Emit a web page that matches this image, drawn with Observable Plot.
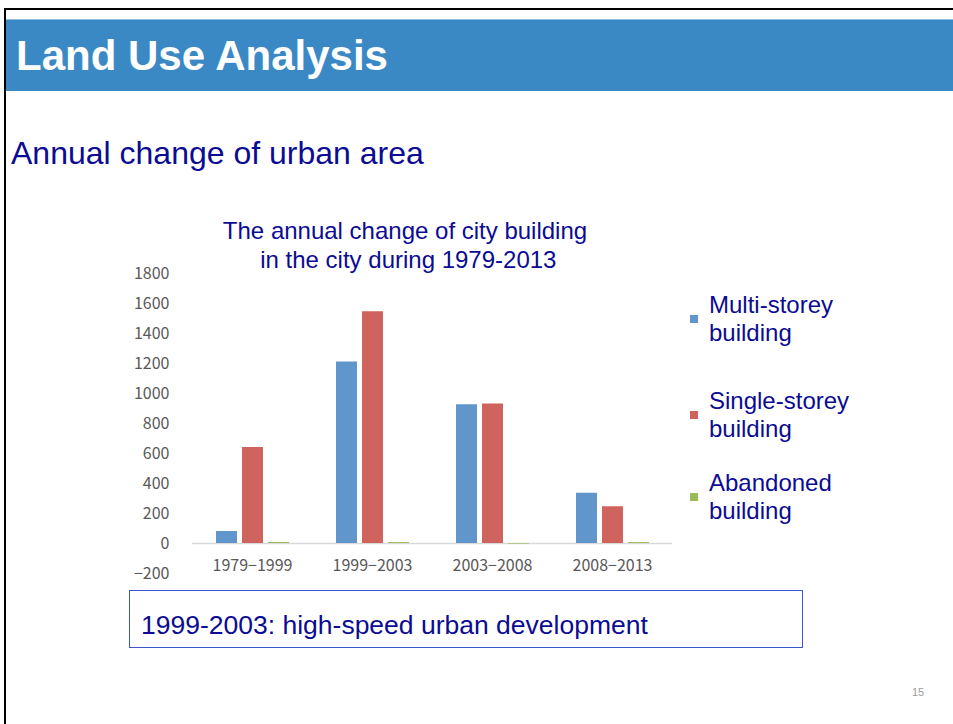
<!DOCTYPE html>
<html>
<head>
<meta charset="utf-8">
<script src="https://cdn.jsdelivr.net/npm/d3@7"></script>
<script src="https://cdn.jsdelivr.net/npm/@observablehq/plot@0.6"></script>
<style>
  html, body { margin: 0; padding: 0; background: #fff; }
  #slide { position: relative; width: 953px; height: 724px; overflow: hidden; background: #fff; font-family: "Liberation Sans", Arial, sans-serif; }
  .abs { position: absolute; white-space: nowrap; }
  #topline { left: 4px; top: 8px; width: 960px; height: 2px; background: #000; }
  #leftline { left: 4px; top: 8px; width: 2px; height: 720px; background: #000; }
  #band { left: 6px; top: 19px; width: 950px; height: 71px; background: #3a89c5; border-top: 1px solid #8fbde0; }
  #heading { left: 16px; top: 31px; font-size: 42px; font-weight: bold; color: #fff; line-height: 50px; }
  #subtitle { left: 11px; top: 134px; font-size: 32px; color: #0b0b93; line-height: 38px; }
  #ctitle { left: 205px; top: 216px; width: 400px; text-align: center; font-size: 24px; color: #0b0b93; line-height: 29px; }
  .legtext { font-size: 24px; color: #0b0b93; line-height: 28px; }
  .sw { width: 8px; height: 8px; }
  #box { left: 129px; top: 590px; width: 672px; height: 56px; border: 1px solid #3c56d0; }
  #boxtext { left: 141px; top: 609px; font-size: 26.5px; color: #0b0b93; line-height: 32px; }
  #pnum { left: 912px; top: 686px; font-size: 11px; color: #9a9a9a; }
  #chart { left: 100px; top: 250px; }
</style>
</head>
<body>
<div id="slide">
  <div class="abs" id="topline"></div>
  <div class="abs" id="leftline"></div>
  <div class="abs" id="band"></div>
  <div class="abs" id="heading">Land Use Analysis</div>
  <div class="abs" id="subtitle">Annual change of urban area</div>
  <div class="abs" id="ctitle">The annual change of city building<br>&nbsp;in the city during 1979-2013</div>
  <div class="abs" id="chart"></div>
  <div id="legend"></div>
  <div class="abs" id="box"></div>
  <div class="abs" id="boxtext">1999-2003: high-speed urban development</div>
  <div class="abs" id="pnum">15</div>
</div>
<script>
// ---- data ----
const periods = ["1979\u22121999", "1999\u22122003", "2003\u22122008", "2008\u22122013"];
const seriesNames = ["Multi-storey building", "Single-storey building", "Abandoned building"];
const multiStorey = [80, 1210, 925, 335];
const singleStorey = [640, 1545, 930, 245];
const abandoned = [7, 6, -4, 6];
const yTicks = [-200, 0, 200, 400, 600, 800, 1000, 1200, 1400, 1600, 1800];
const colors = ["#6096cb", "#cf645e", "#9bbb59"];
const legendLines = [["Multi-storey", "building"], ["Single-storey", "building"], ["Abandoned", "building"]];

const valuesBySeries = [multiStorey, singleStorey, abandoned];
const data = periods.flatMap((p, i) =>
  seriesNames.map((s, j) => ({period: p, series: s, value: valuesBySeries[j][i]}))
);

const chart = Plot.plot({
  width: 583,
  height: 340,
  marginTop: 23,
  marginBottom: 17,
  marginLeft: 90,
  marginRight: 10,
  style: {fontSize: "16px", fontFamily: "'Noto Sans CJK SC', sans-serif", color: "#595959", background: "transparent"},
  fx: {domain: periods, padding: 0, label: null, tickSize: 0, tickPadding: -14},
  x: {domain: seriesNames, axis: null, paddingInner: 0.21, paddingOuter: 0.88},
  y: {domain: [-200, 1800], ticks: yTicks, tickSize: 0, tickPadding: 23, label: null,
      tickFormat: d => d < 0 ? "\u2212" + (-d) : String(d)},
  color: {domain: seriesNames, range: colors},
  marks: [
    Plot.ruleY([0], {stroke: "#d9d9d9", strokeWidth: 1.5}),
    Plot.barY(data, {fx: "period", x: "series", y: "value", fill: "series"})
  ]
});
document.getElementById("chart").appendChild(chart);

// ---- legend ----
const legend = document.getElementById("legend");
const legTops = [291, 387, 469];
seriesNames.forEach((s, i) => {
  const sw = document.createElement("div");
  sw.className = "abs sw";
  sw.style.left = "690px";
  sw.style.top = (legTops[i] + 24) + "px";
  sw.style.background = colors[i];
  legend.appendChild(sw);
  const t = document.createElement("div");
  t.className = "abs legtext";
  t.style.left = "709px";
  t.style.top = legTops[i] + "px";
  t.innerHTML = legendLines[i].join("<br>");
  legend.appendChild(t);
});
</script>
</body>
</html>
